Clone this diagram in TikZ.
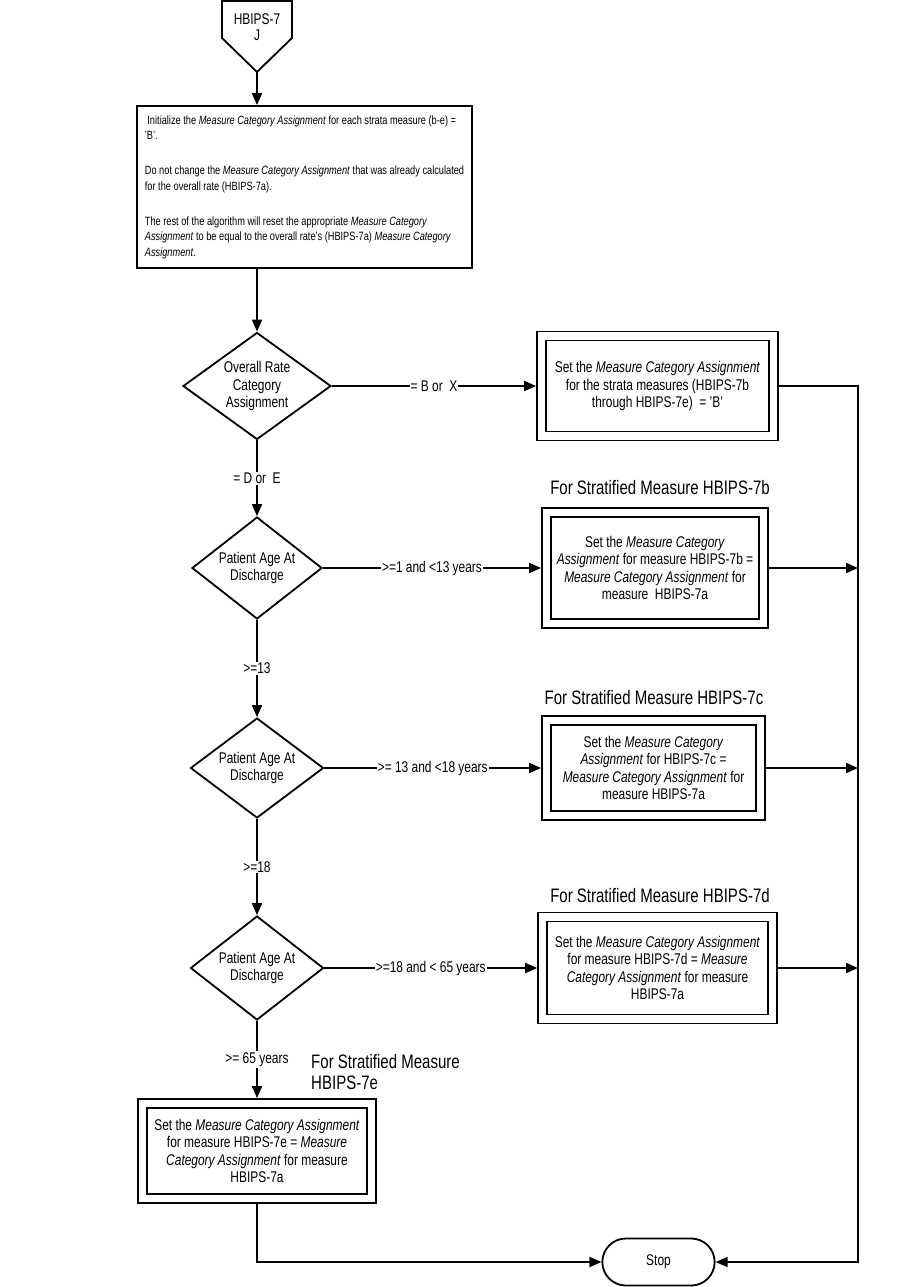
\documentclass[tikz,border=0pt]{standalone}
\usepackage{fontspec}
\setmainfont[FakeStretch=0.77]{Liberation Sans}
\usetikzlibrary{arrows.meta, shapes.geometric, shapes.misc}

\begin{document}
\begin{tikzpicture}[%
        x = 1pt,
        y = -1pt,
        line width = 1.8pt,
        > = {Triangle[length = 12pt, width = 10pt]},
        every node/.style = {font = \fontsize{15.5}{17.5}\selectfont},
        decision/.style = {
            draw, diamond, inner sep = 0pt, align = center
        },
        dbox/.style = {
            draw, double, double distance = 7.2pt,
            outer sep = 5.4pt, inner sep = 0pt, align = center
        },
        elabel/.style = {fill = white, inner sep = 1pt},
        title/.style = {font = \fontsize{19.5}{21}\selectfont}
    ]

        \useasboundingbox (0, 0) rectangle (901, 1287);

        % Off-page connector at the top.
        \draw (222, 1) to (292, 1) to (292, 38) to (257, 72) to (222, 38) to cycle;
        \node (offpage) at (257, 27) [align = center,
            font = \fontsize{15.5}{16}\selectfont] {HBIPS-7\\J};
        \coordinate (start) at (257, 72);

        % Initialisation box.
        \node (init) at (304.5, 187) [draw, minimum width = 335, minimum height = 162,
            align = left, inner sep = 0pt,
            font = \fontsize{12}{15.5}\selectfont] {%
            \ Initialize the \textit{Measure Category Assignment} for each strata measure (b-e) =\\
            'B'.\\[19.5pt]
            Do not change the \textit{Measure Category Assignment} that was already calculated\\
            for the overall rate (HBIPS-7a).\\[19.5pt]
            The rest of the algorithm will reset the appropriate \textit{Measure Category}\\
            \textit{Assignment} to be equal to the overall rate's (HBIPS-7a) \textit{Measure Category}\\
            \textit{Assignment}.};

        % Decisions down the left column.
        \node (overall) at (257, 386) [decision, aspect = 1.38,
            minimum width = 148, minimum height = 107] {Overall Rate\\Category\\Assignment};
        \node (age13) at (257, 568) [decision, aspect = 1.3,
            minimum width = 130, minimum height = 102] {Patient Age At\\Discharge};
        \node (age18) at (257, 768) [decision, aspect = 1.3,
            minimum width = 133, minimum height = 100] {Patient Age At\\Discharge};
        \node (age65) at (257, 968) [decision, aspect = 1.3,
            minimum width = 133, minimum height = 104] {Patient Age At\\Discharge};

        % Assignment boxes.
        \node (setall) at (657.5, 386) [dbox, minimum width = 232, minimum height = 100]
            {Set the \textit{Measure Category Assignment}\\
             for the strata measures (HBIPS-7b\\
             through HBIPS-7e)~ = 'B'};
        \node (set7b) at (655, 568) [dbox, minimum width = 217, minimum height = 111]
            {Set the \textit{Measure Category}\\
             \textit{Assignment} for measure HBIPS-7b =\\
             \textit{Measure Category Assignment} for\\
             measure~ HBIPS-7a};
        \node (set7c) at (653.5, 768) [dbox, minimum width = 214, minimum height = 95]
            {Set the \textit{Measure Category}\\
             \textit{Assignment} for HBIPS-7c =\\
             \textit{Measure Category Assignment} for\\
             measure HBIPS-7a};
        \node (set7d) at (657.5, 968) [dbox, minimum width = 230, minimum height = 102]
            {Set the \textit{Measure Category Assignment}\\
             for measure HBIPS-7d = \textit{Measure}\\
             \textit{Category Assignment} for measure\\
             HBIPS-7a};
        \node (set7e) at (257, 1151) [dbox, minimum width = 229, minimum height = 95]
            {Set the \textit{Measure Category Assignment}\\
             for measure HBIPS-7e = \textit{Measure}\\
             \textit{Category Assignment} for measure\\
             HBIPS-7a};

        % Titles above the stratified boxes.
        \node (title7b) at (660, 488) [title] {For Stratified Measure HBIPS-7b};
        \node (title7c) at (654, 698) [title] {For Stratified Measure HBIPS-7c};
        \node (title7d) at (660, 896) [title] {For Stratified Measure HBIPS-7d};
        \node (title7e) at (307, 1072.5) [title, anchor = west, align = left]
            {For Stratified Measure\\HBIPS-7e};

        % Terminator.
        \node (stop) at (658.5, 1262) [draw, rounded rectangle,
            minimum width = 119, minimum height = 47] {Stop};

        % Rail on the right.
        \coordinate (railtop) at (858, 386);
        \coordinate (railbot) at (858, 1262);

        % Connectors down the left column.
        \draw[->] (start) to (start |- init.north);
        \draw[->] (init.south -| overall) to (overall);
        \draw[->] (overall) to node [elabel] {= D or~ E} (age13);
        \draw[->] (age13) to node [elabel] {>=13} (age18);
        \draw[->] (age18) to node [elabel] {>=18} (age65);
        \draw[->] (age65) to node [elabel] {>= 65 years} (set7e);

        % Connectors to the boxes.
        \draw[->] (overall) to node [elabel] {= B or~ X} (setall);
        \draw[->] (age13) to node [elabel] {>=1 and <13 years} (set7b);
        \draw[->] (age18) to node [elabel] {>= 13 and <18 years} (set7c);
        \draw[->] (age65) to node [elabel] {>=18 and < 65 years} (set7d);

        % Connectors to the stop.
        \draw[->] (setall) to (railtop) to (railbot) to (stop);
        \draw[->] (set7b) to (set7b -| railtop);
        \draw[->] (set7c) to (set7c -| railtop);
        \draw[->] (set7d) to (set7d -| railtop);
        \draw[->] (set7e) to (set7e |- stop) to (stop);
    \end{tikzpicture}
\end{document}
